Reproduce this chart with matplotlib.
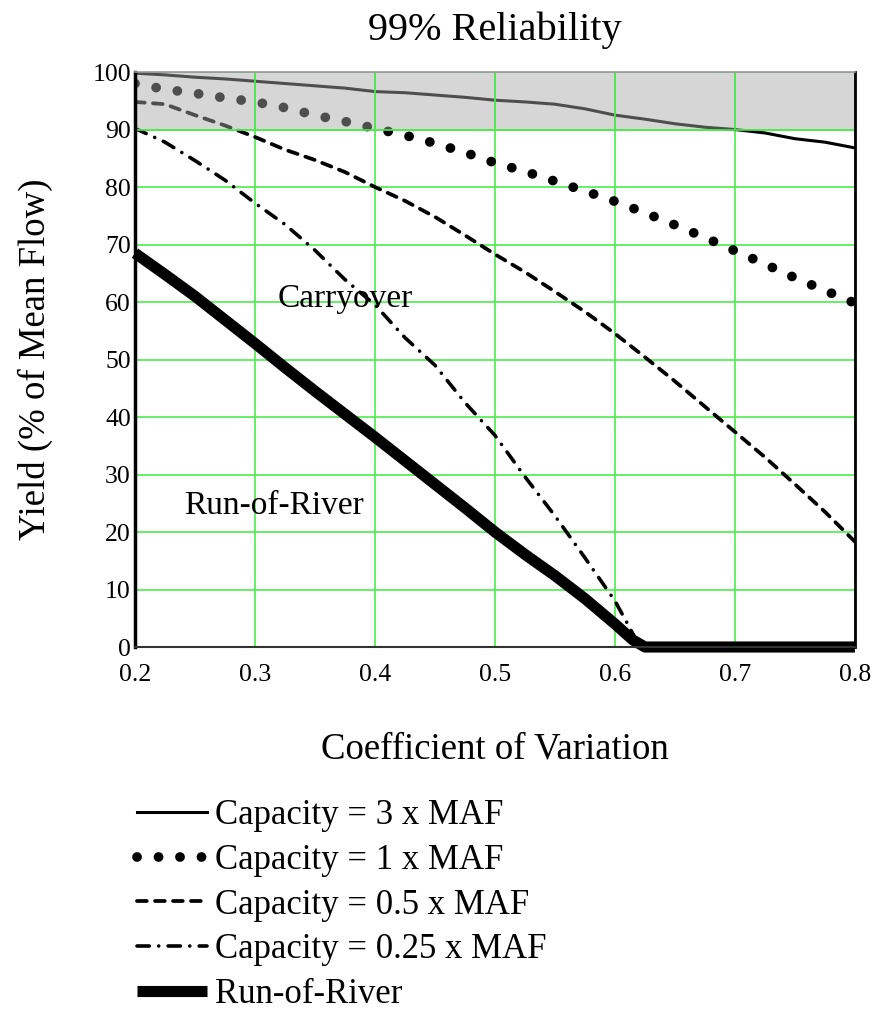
import numpy as np
import matplotlib
matplotlib.use("Agg")
import matplotlib.pyplot as plt

plt.rcParams['font.family'] = ['Liberation Serif', 'DejaVu Serif']

# coefficient of variation
cv = [0.2, 0.225, 0.25, 0.275, 0.3, 0.325, 0.35, 0.375, 0.4, 0.425, 0.45, 0.475,
      0.5, 0.525, 0.55, 0.575, 0.6, 0.625, 0.65, 0.675, 0.7, 0.725, 0.75, 0.775, 0.8]

# yield (% of mean flow)
cap_3 = [99.8, 99.5, 99.1, 98.8, 98.4, 98.0, 97.6, 97.2, 96.6, 96.4, 96.0, 95.6,
         95.1, 94.8, 94.4, 93.6, 92.5, 91.8, 91.0, 90.4, 90.0, 89.4, 88.4, 87.8, 86.8]
cap_1 = [98.0, 97.0, 96.3, 95.5, 94.8, 93.8, 92.5, 91.4, 90.2, 89.0, 87.6, 86.0,
         84.2, 82.7, 81.0, 79.3, 77.5, 75.5, 73.4, 71.2, 68.9, 66.6, 64.2, 62.0, 59.8]
cap_05 = [94.8, 94.4, 92.5, 90.7, 88.7, 86.5, 84.7, 82.6, 80.0, 77.6, 74.8, 71.6,
          68.3, 65.2, 61.8, 58.3, 54.5, 50.4, 46.2, 41.8, 37.4, 33.0, 28.3, 23.5, 18.3]
cap_025_cv = [0.2, 0.225, 0.25, 0.275, 0.3, 0.325, 0.35, 0.375, 0.4, 0.425, 0.45,
              0.475, 0.5, 0.525, 0.55, 0.575, 0.6, 0.61, 0.62, 0.65, 0.7, 0.75, 0.8]
cap_025 = [90.2, 87.8, 84.6, 81.2, 77.2, 73.5, 69.0, 63.9, 59.5, 53.8, 49.0, 42.5,
           36.8, 29.6, 22.8, 15.5, 8.0, 4.2, 0.3, 0.0, 0.0, 0.0, 0.0]
ror_cv = [0.2, 0.225, 0.25, 0.275, 0.3, 0.325, 0.35, 0.375, 0.4, 0.425, 0.45, 0.475,
          0.5, 0.525, 0.55, 0.575, 0.6, 0.615, 0.625, 0.65, 0.7, 0.75, 0.8]
run_of_river = [68.5, 64.8, 61.0, 56.9, 52.8, 48.6, 44.5, 40.5, 36.5, 32.4, 28.3,
                24.2, 20.0, 16.1, 12.4, 8.4, 4.0, 1.2, 0.0, 0.0, 0.0, 0.0, 0.0]

labels = ["Capacity = 3 x MAF", "Capacity = 1 x MAF", "Capacity = 0.5 x MAF",
          "Capacity = 0.25 x MAF", "Run-of-River"]

xticks = [0.2, 0.3, 0.4, 0.5, 0.6, 0.7, 0.8]
yticks = list(range(0, 101, 10))

fig = plt.figure(figsize=(8.81, 10.13), dpi=100)
ax = fig.add_axes([0.1532, 0.3613, 0.8173, 0.5676])

green = '#4cec4c'
ax.grid(True, color=green, lw=1.2)
ax.set_axisbelow(True)

l1, = ax.plot(cv, cap_3, color='black', lw=2.2, zorder=2)
l2, = ax.plot(cv, cap_1, color='black', lw=7, dashes=(0.01, 2.2),
              dash_capstyle='round', zorder=2)
l3, = ax.plot(cv, cap_05, color='black', lw=2.7, dashes=(2.6, 2.2),
              dash_capstyle='round', zorder=2)
l4, = ax.plot(cap_025_cv, cap_025, color='black', lw=2.6,
              dashes=(3.4, 2.6, 0.01, 2.6), dash_capstyle='round', zorder=2)
l5, = ax.plot(ror_cv, run_of_river, color='black', lw=8, solid_capstyle='butt',
              solid_joinstyle='round', zorder=2.1, clip_on=False)

# shaded band above 90 %, drawn over the curves
ax.axhspan(90, 100, color='#a8a8a8', alpha=0.47, lw=0, zorder=3)
ax.vlines(xticks[1:-1], 90, 100, color=green, lw=1.2, zorder=3.5)
ax.axhline(90, color=green, lw=1.2, zorder=3.5)

ax.text(0.375, 60.5, "Carryover", fontsize=24, ha='center', va='center', zorder=4)
ax.text(0.316, 24.5, "Run-of-River", fontsize=24, ha='center', va='center', zorder=4)

ax.set_xlim(0.2, 0.8)
ax.set_ylim(0, 100)
ax.set_xticks(xticks)
ax.set_xticklabels([f"{x:.1f}" for x in xticks])
ax.set_yticks(yticks)
ax.tick_params(length=0, labelsize=18.5)
ax.tick_params(axis='x', pad=12)
ax.tick_params(axis='y', pad=3)

ax.spines['left'].set_linewidth(2.5)
ax.spines['right'].set_linewidth(2)
ax.spines['bottom'].set_linewidth(1.5)
ax.spines['bottom'].set_color('#333333')
ax.spines['top'].set_linewidth(1.2)
ax.spines['top'].set_color('#999999')
for s in ax.spines.values():
    s.set_zorder(5)

ax.set_title("99% Reliability", fontsize=29, pad=23)
ax.set_xlabel("Coefficient of Variation", fontsize=26.5, labelpad=33)
ax.set_ylabel("Yield (% of Mean Flow)", fontsize=26.5, labelpad=28)

fig.legend([l1, l2, l3, l4, l5], labels, loc='upper left',
           bbox_to_anchor=(0.14, 0.225), frameon=False, fontsize=25,
           handlelength=2.0, handletextpad=0.25, labelspacing=0.34,
           borderaxespad=0)

fig.savefig("out.png", dpi=100)
